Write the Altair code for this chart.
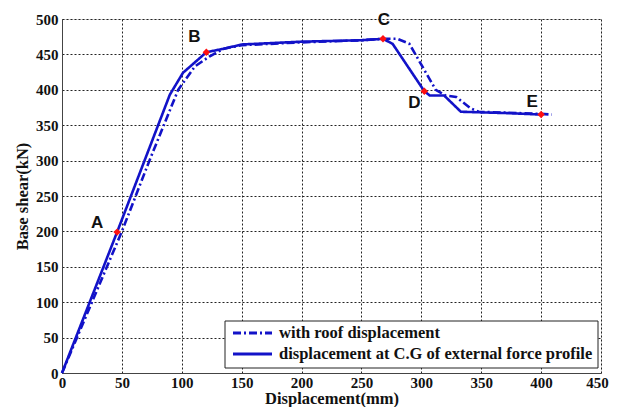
import altair as alt
import pandas as pd

# Series
roof_x = [0, 50, 73, 97, 111, 123, 135, 150, 200, 250, 268, 280, 290, 312, 320, 329, 341, 348, 400, 409]
roof_y = [0, 200, 300, 400, 433, 447, 458, 463, 467, 470, 472, 472, 465, 400, 392, 390, 374, 369, 366, 365]
cg_x = [0, 46, 90, 101, 120.5, 135, 150, 200, 250, 268, 276, 302.5, 307, 319, 333, 373, 400]
cg_y = [0, 199, 393, 424, 453, 458, 464, 468, 470, 472, 465, 398, 392, 392, 369, 367, 365]
names = ["with roof displacement", "displacement at C.G of external force profile"]

pt_label = ["A", "B", "C", "D", "E"]
pt_x = [46, 120.5, 268, 302.5, 400]
pt_y = [199, 453, 472, 398, 365]
lbl_dx = [-20, -12, 1, -10, -9]
lbl_dy = [-9, -15, -19, 12, -13]

x_ticks = list(range(0, 451, 50))
y_ticks = list(range(0, 501, 50))

SERIF = "Liberation Serif"
BLUE = "#1212c8"

rows = []
for i, (xs_, ys_) in enumerate([(roof_x, roof_y), (cg_x, cg_y)]):
    for k, (a, b) in enumerate(zip(xs_, ys_)):
        rows.append({"series": names[i], "x": a, "y": b, "o": k})
df = pd.DataFrame(rows)
pts = pd.DataFrame({"label": pt_label, "x": pt_x, "y": pt_y})
one = pd.DataFrame({"k": [0]})

xs = alt.Scale(domain=[0, 450], nice=False, zero=False)
ys = alt.Scale(domain=[0, 500], nice=False, zero=False)

common = dict(grid=True, gridDash=[2, 2], gridColor="#222", gridOpacity=1, ticks=False,
              domainColor="#444", labelFont=SERIF, labelFontSize=15,
              labelFontWeight="bold", labelColor="#111", titleFont=SERIF, titleFontSize=16.5,
              titleFontWeight="bold", titleColor="#111", labelOverlap=False, labelFlush=False)
xaxis = alt.Axis(values=x_ticks, title="Displacement(mm)", labelPadding=2,
                 titleY=30, titleBaseline="alphabetic",
                 labelOffset={"condition": {"test": "datum.value == 450", "value": -4}, "value": 0},
                 **common)
yaxis = alt.Axis(values=y_ticks, title="Base shear(kN)", titlePadding=5, labelPadding=4, **common)

X = alt.X("x:Q", scale=xs, axis=xaxis)
Y = alt.Y("y:Q", scale=ys, axis=yaxis)

lines = alt.Chart(df).mark_line(strokeWidth=2.6).encode(
    x=X, y=Y,
    color=alt.Color("series:N", scale=alt.Scale(domain=names, range=[BLUE, BLUE]), legend=None),
    strokeDash=alt.StrokeDash("series:N", scale=alt.Scale(domain=names, range=[[8, 3, 2, 3], [1, 0]]), legend=None),
    order="o:Q",
)

marks = alt.Chart(pts).mark_point(shape="diamond", filled=True, color="#ff1010", size=55, opacity=1).encode(
    x=X, y=Y)

texts = []
for i in range(len(pt_label)):
    texts.append(alt.Chart(pts.iloc[[i]]).mark_text(
        font="Liberation Sans", fontSize=17, fontWeight="bold", color="#111",
        dx=lbl_dx[i], dy=lbl_dy[i]).encode(x=X, y=Y, text="label:N"))

# legend box (pixel positions inside the plot area)
box = alt.Chart(one).mark_rect(fill="white", stroke="#222", strokeWidth=1).encode(
    x=alt.value(163), x2=alt.value(536), y=alt.value(302), y2=alt.value(349))
leg_items = []
for i, (dash, yy) in enumerate([([8, 3, 2, 3], 314), ([1, 0], 335)]):
    leg_items.append(alt.Chart(one).mark_rule(color=BLUE, strokeWidth=3, strokeDash=dash).encode(
        x=alt.value(171), x2=alt.value(210), y=alt.value(yy)))
    leg_items.append(alt.Chart(one).mark_text(
        font=SERIF, fontSize=16.5, fontWeight="bold", color="#111", align="left", baseline="middle").encode(
        x=alt.value(217), y=alt.value(yy), text=alt.value(names[i])))

chart = alt.layer(lines, marks, *texts, box, *leg_items).properties(
    width=539, height=354,
    autosize=alt.AutoSizeParams(type="none"),
    padding={"left": 54, "top": 11, "right": 9, "bottom": 34},
).configure_view(stroke="#444", strokeWidth=1).configure(background="white")

chart.save("out.html", embed_options={"renderer": "svg", "actions": False})
